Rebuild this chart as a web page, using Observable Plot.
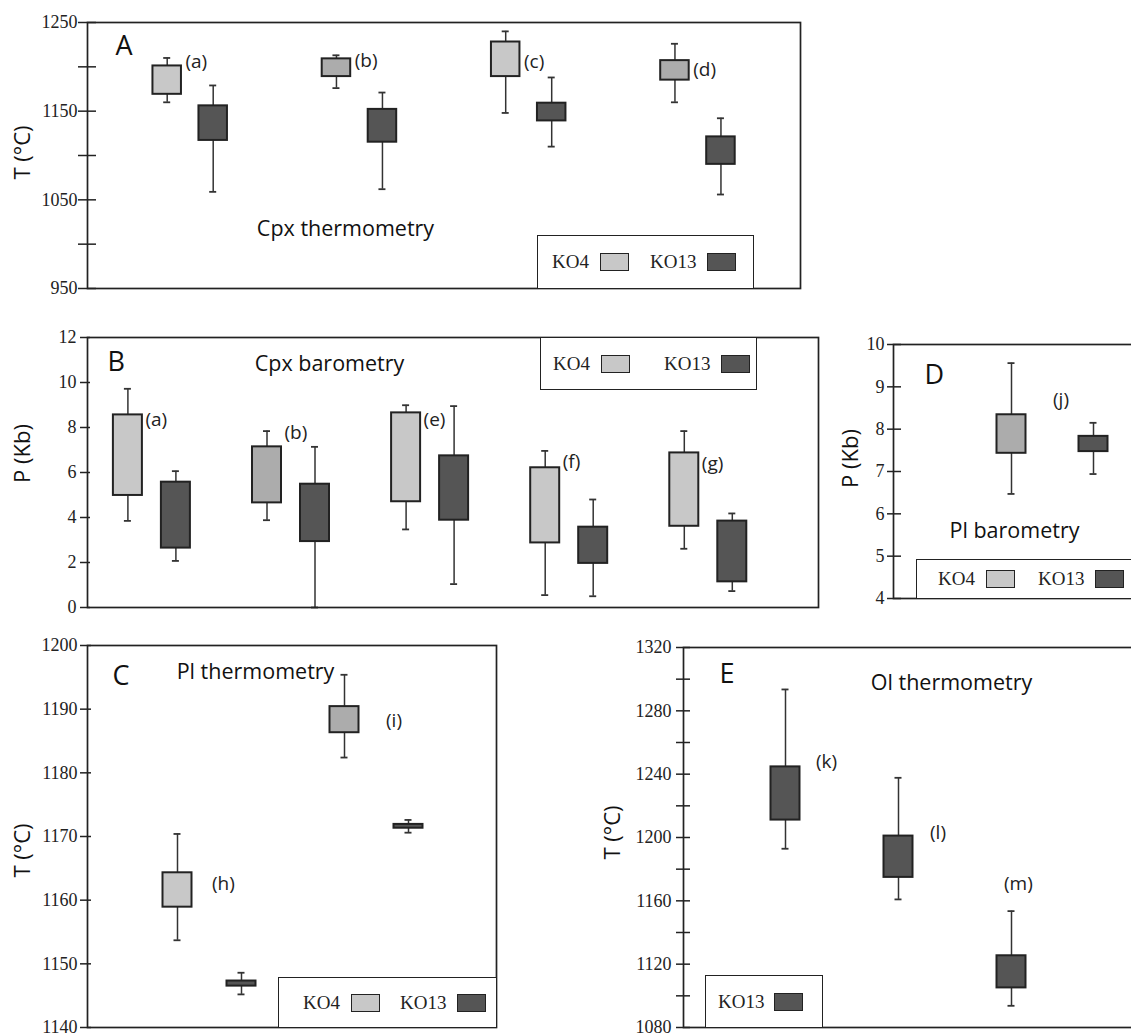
<!DOCTYPE html>
<html><head><meta charset="utf-8">
<script src="https://cdn.jsdelivr.net/npm/d3@7"></script>
<script src="https://cdn.jsdelivr.net/npm/@observablehq/plot@0.6"></script>
<style>
body{margin:0;background:#fff}
#root{position:relative;width:1131px;height:1033px;overflow:hidden;background:#fff}
#root svg{position:absolute}
.legend{position:absolute;border:1.6px solid #222;background:#fff;box-sizing:border-box;display:flex;align-items:center;font-family:"Liberation Serif",serif;font-size:19px;color:#222;white-space:nowrap}
.sw{display:inline-block;width:29px;height:18px;border:1.6px solid #222;box-sizing:border-box}
</style></head><body><div id="root"></div>
<script>
// ---------------- DATA ----------------
// Panel A: Cpx thermometry, T (°C)
const groupsA = ["(a)", "(b)", "(c)", "(d)"];
const ko4MinA = [1160, 1176, 1148, 1160];
const ko4Q1A  = [1169, 1189, 1189, 1185];
const ko4Q3A  = [1201, 1209, 1228, 1207];
const ko4MaxA = [1210, 1213, 1240, 1226];
const ko13MinA = [1059, 1062, 1110, 1056];
const ko13Q1A  = [1117, 1115, 1139, 1090];
const ko13Q3A  = [1156, 1152, 1159, 1121];
const ko13MaxA = [1179, 1171, 1188, 1142];
const labelYA  = [1206, 1207, 1205, 1197];
const ticksA = [950, 1050, 1150, 1250];
const minorTicksA = [1000, 1100, 1200];

// Panel B: Cpx barometry, P (Kb)
const groupsB = ["(a)", "(b)", "(e)", "(f)", "(g)"];
const ko4MinB = [3.85, 3.88, 3.47, 0.55, 2.61];
const ko4Q1B  = [4.98, 4.65, 4.70, 2.87, 3.61];
const ko4Q3B  = [8.56, 7.14, 8.65, 6.21, 6.87];
const ko4MaxB = [9.72, 7.84, 8.99, 6.96, 7.84];
const ko13MinB = [2.07, 0.00, 1.04, 0.50, 0.73];
const ko13Q1B  = [2.64, 2.93, 3.88, 1.96, 1.14];
const ko13Q3B  = [5.57, 5.48, 6.74, 3.57, 3.84];
const ko13MaxB = [6.06, 7.14, 8.95, 4.80, 4.18];
const labelYB  = [8.32, 7.76, 8.32, 6.46, 6.37];
const ticksB = [0, 2, 4, 6, 8, 10, 12];

// Panel C: Pl thermometry, T (°C)
const groupsC = ["(h)", "(i)"];
const ko4MinC = [1153.7, 1182.4];
const ko4Q1C  = [1158.9, 1186.3];
const ko4Q3C  = [1164.3, 1190.4];
const ko4MaxC = [1170.4, 1195.4];
const ko13MinC = [1145.2, 1170.6];
const ko13Q1C  = [1146.5, 1171.3];
const ko13Q3C  = [1147.3, 1171.9];
const ko13MaxC = [1148.6, 1172.6];
const labelYC  = [1162.6, 1188.2];
const ticksC = [1140, 1150, 1160, 1170, 1180, 1190, 1200];

// Panel D: Pl barometry, P (Kb)
const groupsD = ["(j)"];
const ko4MinD = [6.47];
const ko4Q1D  = [7.43];
const ko4Q3D  = [8.34];
const ko4MaxD = [9.56];
const ko13MinD = [6.94];
const ko13Q1D  = [7.47];
const ko13Q3D  = [7.83];
const ko13MaxD = [8.15];
const labelYD  = [8.68];
const ticksD = [4, 5, 6, 7, 8, 9, 10];

// Panel E: Ol thermometry, T (°C), KO13 only
const groupsE = ["(k)", "(l)", "(m)"];
const ko13MinE = [1192.9, 1160.9, 1093.7];
const ko13Q1E  = [1211.0, 1174.8, 1105.0];
const ko13Q3E  = [1244.6, 1200.9, 1125.3];
const ko13MaxE = [1293.5, 1237.7, 1153.5];
const labelYE  = [1248, 1203, 1171];
const ticksE = [1080, 1120, 1160, 1200, 1240, 1280, 1320];
const minorTicksE = [1100, 1140, 1180, 1220, 1260, 1300];

// ---------------- STYLE ----------------
const SANS = "'Open Sans', sans-serif";
const SERIF = "'Liberation Serif', serif";
const INK = "#222";
const KO4_FILL = "#c8c8c8";
const KO4_DARK = "#acacac";
const KO13_FILL = "#555555";

function setFont(svg, label, family, size) {
  svg.querySelectorAll(`g[aria-label="${label}"] text`).forEach(t => {
    t.style.fontFamily = family;
    t.style.fontSize = size + "px";
  });
}

function buildPanel(cfg) {
  const [fl, ft, fr, fb] = cfg.frame;
  const ml = fl - cfg.svgLeft, mt = ft - cfg.svgTop, mr = 2, mb = 12;
  const width = fr - cfg.svgLeft + mr, height = fb - cfg.svgTop + mb;
  const xDom = [(fl - cfg.c0) / cfg.step, (fr - cfg.c0) / cfg.step];
  const rows = [];
  cfg.series.forEach(s => {
    s.min.forEach((_, i) => {
      rows.push({
        series: s.name, label: cfg.groups[i],
        pos: i + s.offsetPx / cfg.step,
        min: s.min[i], q1: s.q1[i], q3: s.q3[i], max: s.max[i],
        fill: s.name === "KO4" ? ((cfg.darkKO4 || []).includes(i) ? KO4_DARK : KO4_FILL) : KO13_FILL
      });
    });
  });
  const firstSeries = cfg.series[0];
  const labelRows = cfg.groups.map((g, i) => {
    const gap = Array.isArray(cfg.labelDx) ? cfg.labelDx[i] : cfg.labelDx;
    return {label: g, x: i + (firstSeries.offsetPx + cfg.hw + gap) / cfg.step, y: cfg.labelY[i]};
  });
  const allTicks = cfg.ticks.concat(cfg.minorTicks || []);
  const svg = Plot.plot({
    width, height, marginLeft: ml, marginTop: mt, marginRight: mr, marginBottom: mb,
    style: {background: "transparent", overflow: "visible"},
    x: {domain: xDom, axis: null},
    y: {domain: cfg.yDomain, axis: null},
    color: {type: "identity"},
    marks: [
      Plot.ruleY(allTicks, {y: d => d, x1: xDom[0], x2: xDom[0], insetLeft: -cfg.tickOut, insetRight: -cfg.tickIn, stroke: INK, strokeWidth: 1.5}),
      Plot.text(cfg.ticks, {y: d => d, x: xDom[0], text: d => String(d), dx: -cfg.tickPad, textAnchor: "end", lineAnchor: "middle", fontSize: 18, fontFamily: SERIF, fill: INK, ariaLabel: "ticklabels"}),
      Plot.ruleX(rows, {x: "pos", y1: "min", y2: "max", stroke: "#333", strokeWidth: 1.5}),
      Plot.ruleY(rows, {y: "max", x1: "pos", x2: "pos", insetLeft: -3.5, insetRight: -3.5, stroke: "#333", strokeWidth: 1.8}),
      Plot.ruleY(rows, {y: "min", x1: "pos", x2: "pos", insetLeft: -3.5, insetRight: -3.5, stroke: "#333", strokeWidth: 1.8}),
      Plot.rect(rows, {x1: "pos", x2: "pos", y1: "q1", y2: "q3", insetLeft: -cfg.hw, insetRight: -cfg.hw, fill: "fill", stroke: INK, strokeWidth: 2}),
      Plot.frame({stroke: INK, strokeWidth: 1.7}),
      Plot.text(labelRows, {x: "x", y: "y", text: "label", textAnchor: "start", fontSize: 19, fontFamily: SANS, fill: INK, ariaLabel: "grouplabels"}),
      Plot.text([cfg.letter], {frameAnchor: "top-left", dx: cfg.letterXY[0], dy: cfg.letterXY[1], textAnchor: "start", lineAnchor: "middle", fontSize: 27, fontFamily: SANS, fill: "#111", ariaLabel: "letter"}),
      Plot.text([cfg.title], {frameAnchor: "top-left", dx: cfg.titleXY[0], dy: cfg.titleXY[1], textAnchor: "middle", lineAnchor: "middle", fontSize: 21.5, fontFamily: SANS, fill: "#111", ariaLabel: "paneltitle"}),
      Plot.text([cfg.yTitle], {frameAnchor: "left", dx: cfg.yTitleXY[0], dy: cfg.yTitleXY[1], rotate: -90, textAnchor: "middle", lineAnchor: "middle", fontSize: 22, fontFamily: SANS, fill: "#111", ariaLabel: "ytitle"})
    ]
  });
  setFont(svg, "ticklabels", SERIF, 18);
  setFont(svg, "grouplabels", SANS, 19);
  setFont(svg, "letter", SANS, 27);
  setFont(svg, "paneltitle", SANS, 21.5);
  setFont(svg, "ytitle", SANS, 22);
  svg.style.left = cfg.svgLeft + "px";
  svg.style.top = cfg.svgTop + "px";
  document.getElementById("root").appendChild(svg);
}

function legend(box, items, padLeft, gaps) {
  const div = document.createElement("div");
  div.className = "legend";
  div.style.left = box[0] + "px"; div.style.top = box[1] + "px";
  div.style.width = box[2] + "px"; div.style.height = box[3] + "px";
  div.style.paddingLeft = padLeft + "px";
  items.forEach((it, i) => {
    const t = document.createElement("span");
    t.textContent = it.text;
    if (i > 0) t.style.marginLeft = gaps[1] + "px";
    const s = document.createElement("span");
    s.className = "sw"; s.style.background = it.fill; s.style.marginLeft = gaps[0] + "px";
    div.appendChild(t); div.appendChild(s);
  });
  document.getElementById("root").appendChild(div);
}

const serKO4 = (min, q1, q3, max, off) => ({name: "KO4", offsetPx: off, min, q1, q3, max});
const serKO13 = (min, q1, q3, max, off) => ({name: "KO13", offsetPx: off, min, q1, q3, max});

// Panel A
buildPanel({
  svgLeft: 0, svgTop: 0, frame: [87, 22, 800, 288], c0: 166.7, step: 169.25, hw: 14.25,
  yDomain: [950, 1250], ticks: ticksA, minorTicks: minorTicksA, tickOut: 9, tickIn: 9, tickPad: 10,
  groups: groupsA, labelY: labelYA, labelDx: 4, darkKO4: [1, 3],
  series: [serKO4(ko4MinA, ko4Q1A, ko4Q3A, ko4MaxA, 0), serKO13(ko13MinA, ko13Q1A, ko13Q3A, ko13MaxA, 46)],
  letter: "A", letterXY: [28, 24], title: "Cpx thermometry", titleXY: [258, 207], yTitle: "T (°C)", yTitleXY: [-65, -3]
});
// Panel B
buildPanel({
  svgLeft: 0, svgTop: 325, frame: [87, 337, 818, 607], c0: 127.4, step: 139.1, hw: 14.5,
  yDomain: [0, 12], ticks: ticksB, tickOut: 7, tickIn: 3, tickPad: 11,
  groups: groupsB, labelY: labelYB, labelDx: 3, darkKO4: [1],
  series: [serKO4(ko4MinB, ko4Q1B, ko4Q3B, ko4MaxB, 0), serKO13(ko13MinB, ko13Q1B, ko13Q3B, ko13MaxB, 48)],
  letter: "B", letterXY: [20, 25], title: "Cpx barometry", titleXY: [242, 27], yTitle: "P (Kb)", yTitleXY: [-65, -19]
});
// Panel C
buildPanel({
  svgLeft: 0, svgTop: 632, frame: [87, 645, 496, 1027], c0: 177, step: 167, hw: 14.5,
  yDomain: [1140, 1200], ticks: ticksC, tickOut: 7, tickIn: 4, tickPad: 10,
  groups: groupsC, labelY: labelYC, labelDx: [20, 27], darkKO4: [1],
  series: [serKO4(ko4MinC, ko4Q1C, ko4Q3C, ko4MaxC, 0), serKO13(ko13MinC, ko13Q1C, ko13Q3C, ko13MaxC, 64)],
  letter: "C", letterXY: [25, 31], title: "Pl thermometry", titleXY: [168, 27], yTitle: "T (°C)", yTitleXY: [-65, 14]
});
// Panel D
buildPanel({
  svgLeft: 833, svgTop: 334, frame: [893, 344, 1150, 598], c0: 1011, step: 100, hw: 14.5,
  yDomain: [4, 10], ticks: ticksD, tickOut: 6, tickIn: 8, tickPad: 9,
  groups: groupsD, labelY: labelYD, labelDx: 27, darkKO4: [0],
  series: [serKO4(ko4MinD, ko4Q1D, ko4Q3D, ko4MaxD, 0), serKO13(ko13MinD, ko13Q1D, ko13Q3D, ko13MaxD, 82)],
  letter: "D", letterXY: [31, 31], title: "Pl barometry", titleXY: [121, 187], yTitle: "P (Kb)", yTitleXY: [-43, -13]
});
// Panel E
buildPanel({
  svgLeft: 595, svgTop: 635, frame: [683, 647, 1150, 1027], c0: 785, step: 113, hw: 14.5,
  yDomain: [1080, 1320], ticks: ticksE, minorTicks: minorTicksE, tickOut: 7, tickIn: 7, tickPad: 12,
  groups: groupsE, labelY: labelYE, labelDx: [16, 17, -22],
  series: [serKO13(ko13MinE, ko13Q1E, ko13Q3E, ko13MaxE, 0)],
  letter: "E", letterXY: [36, 27], title: "Ol thermometry", titleXY: [268, 36], yTitle: "T (°C)", yTitleXY: [-71, -5]
});

// Legends
const KO4L = {text: "KO4", fill: KO4_FILL}, KO13L = {text: "KO13", fill: KO13_FILL};
legend([537, 235, 217, 54], [KO4L, KO13L], 14, [11, 21]);
legend([540, 337, 217, 53], [KO4L, KO13L], 12, [11, 34]);
legend([278, 977, 219, 51], [KO4L, KO13L], 24, [11, 20]);
legend([916, 559, 260, 40], [KO4L, KO13L], 21, [11, 23]);
legend([705, 975, 118, 53], [KO13L], 12, [10, 0]);
</script></body></html>
